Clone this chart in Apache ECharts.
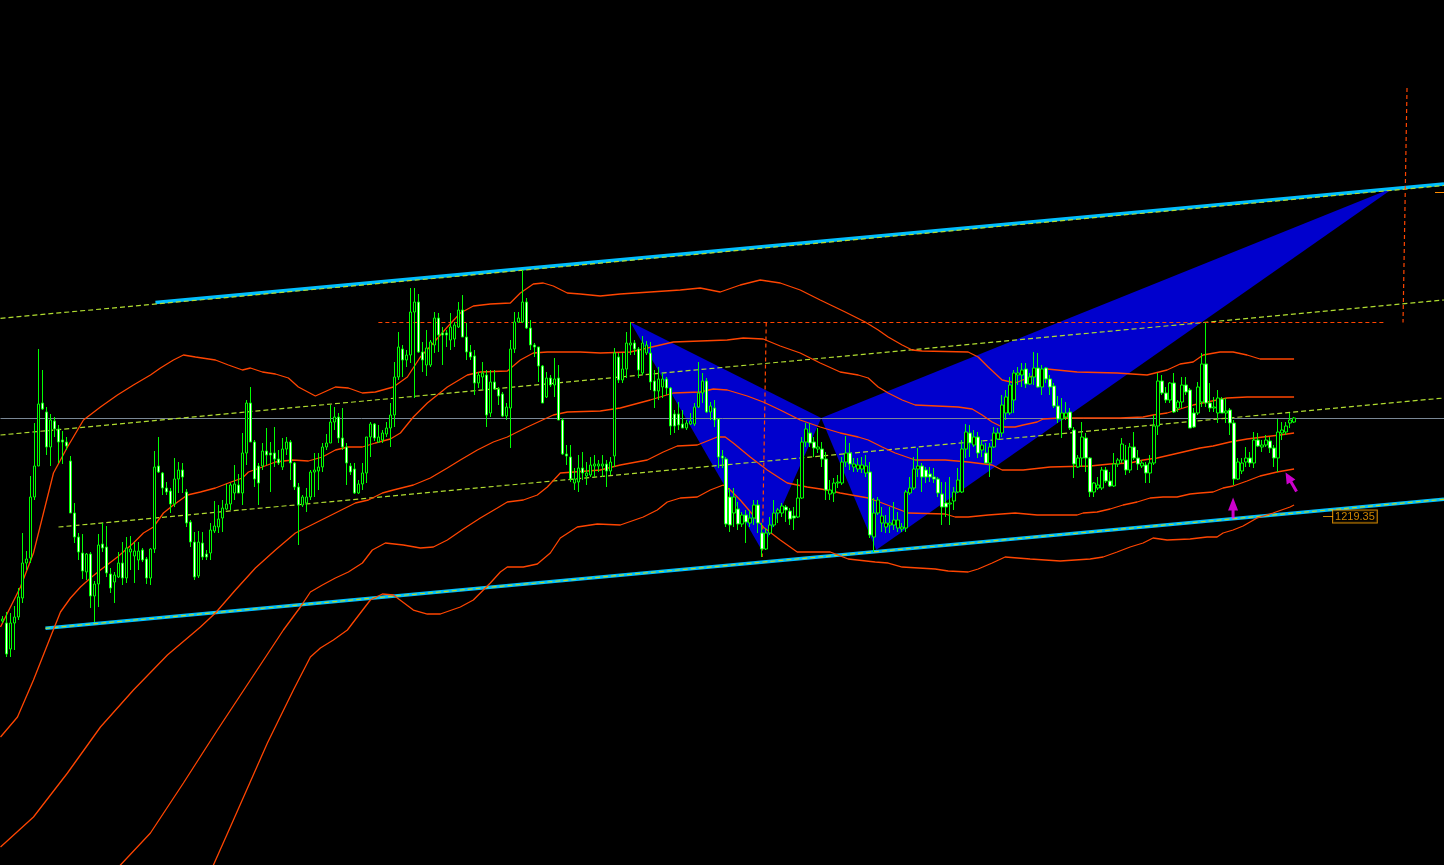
<!DOCTYPE html>
<html><head><meta charset="utf-8">
<script src="https://cdn.jsdelivr.net/npm/echarts@6/dist/echarts.min.js"></script>
<style>html,body{margin:0;padding:0;background:#000;overflow:hidden}#c{width:1444px;height:865px}</style>
</head><body><div id="c"></div>
<script>
// ---- price data (one candle per slot) ----
const opens = [1208.9,1208.7,1206.1,1208.7,1209.3,1211.2,1214.7,1215.2,1221.3,1224.4,1230.7,1229.8,1226.3,1228.9,1228.1,1227.0,1226.8,1224.9,1219.7,1217.3,1215.7,1213.8,1215.6,1211.4,1212.6,1216.6,1216.3,1213.6,1212.8,1213.3,1214.7,1213.2,1215.8,1215.4,1215.0,1216.0,1215.1,1213.2,1216.1,1224.4,1223.7,1222.2,1221.9,1220.6,1223.1,1224.0,1221.8,1218.8,1216.8,1213.4,1216.7,1215.6,1215.7,1217.9,1218.3,1219.2,1220.1,1220.6,1221.7,1222.5,1221.7,1225.7,1230.7,1226.8,1224.4,1224.4,1225.9,1225.7,1225.7,1225.1,1224.3,1226.1,1226.8,1224.7,1222.3,1220.5,1220.7,1221.3,1223.8,1223.9,1224.3,1226.3,1226.7,1228.8,1229.3,1227.2,1226.3,1224.4,1224.1,1221.7,1222.6,1223.7,1227.3,1228.6,1226.8,1227.0,1227.6,1228.2,1229.5,1233.3,1236.1,1235.0,1235.5,1239.8,1240.8,1235.8,1234.5,1234.5,1236.5,1239.2,1237.7,1237.7,1237.0,1237.1,1238.3,1240.0,1237.3,1235.8,1235.4,1232.7,1233.3,1233.5,1229.7,1232.8,1232.1,1231.6,1229.4,1230.2,1236.1,1238.8,1238.8,1240.8,1238.2,1236.5,1236.3,1234.4,1231.3,1233.2,1232.5,1233.2,1229.0,1225.6,1225.3,1222.7,1222.8,1224.2,1223.4,1223.5,1224.4,1224.4,1224.4,1224.6,1223.9,1225.4,1235.3,1233.0,1234.1,1236.5,1236.7,1236.1,1233.7,1235.7,1235.7,1232.9,1231.9,1232.3,1233.1,1232.2,1229.6,1229.6,1228.6,1228.2,1228.6,1228.6,1230.3,1231.7,1232.9,1229.8,1230.2,1229.1,1225.4,1225.1,1221.3,1219.7,1220.1,1218.6,1219.5,1218.7,1219.2,1220.5,1217.7,1216.1,1217.7,1218.5,1219.7,1219.7,1220.3,1219.9,1219.4,1219.3,1221.2,1226.8,1227.7,1226.8,1226.1,1226.1,1225.1,1221.6,1221.7,1222.7,1222.7,1224.8,1225.7,1224.3,1224.1,1224.1,1223.7,1223.8,1217.3,1219.7,1218.7,1218.3,1218.5,1218.5,1218.2,1218.1,1218.2,1221.7,1222.2,1224.1,1224.4,1224.0,1223.6,1223.3,1223.1,1221.6,1220.7,1220.6,1220.9,1221.8,1221.8,1226.1,1227.7,1226.5,1227.3,1226.0,1225.7,1224.7,1226.3,1227.1,1227.7,1229.7,1229.7,1231.0,1233.5,1233.5,1234.1,1232.6,1233.3,1234.2,1232.3,1234.2,1233.1,1232.4,1230.4,1229.1,1229.3,1229.8,1228.0,1224.3,1225.2,1227.2,1225.2,1221.8,1222.2,1222.2,1224.0,1222.9,1222.4,1224.6,1225.0,1225.0,1224.0,1226.3,1225.2,1224.4,1224.5,1223.7,1224.7,1228.4,1232.9,1231.7,1231.0,1232.7,1230.2,1230.8,1232.5,1232.0,1229.7,1229.7,1230.8,1234.6,1230.7,1230.2,1229.7,1231.1,1229.7,1230.0,1228.7,1223.1,1223.9,1224.8,1225.2,1224.7,1227.0,1226.3,1226.5,1226.9,1226.2,1225.2,1227.7,1227.8,1228.7,1228.8];
const closes = [1209.1,1205.6,1208.7,1209.3,1211.3,1214.7,1215.1,1221.3,1224.4,1230.6,1230.1,1226.3,1229.0,1228.1,1226.8,1226.8,1226.4,1219.7,1217.3,1215.8,1213.9,1215.6,1211.4,1212.6,1216.5,1216.2,1213.7,1212.2,1213.5,1214.7,1213.2,1216.2,1216.1,1215.9,1215.9,1215.0,1213.2,1216.1,1224.3,1223.8,1222.2,1221.8,1220.6,1223.1,1224.0,1223.3,1218.7,1216.8,1213.3,1216.8,1215.3,1215.3,1218.0,1218.4,1219.1,1220.2,1220.6,1222.5,1222.6,1221.7,1225.7,1230.7,1226.8,1223.1,1222.7,1225.9,1225.5,1225.5,1225.1,1224.7,1226.1,1226.8,1224.7,1222.3,1220.5,1221.3,1221.3,1223.8,1224.0,1224.3,1226.3,1226.7,1228.8,1229.3,1227.2,1226.3,1224.7,1223.8,1221.7,1222.6,1223.7,1227.3,1228.6,1227.2,1227.3,1227.7,1228.2,1229.5,1233.3,1236.3,1235.0,1235.5,1239.8,1240.8,1235.8,1235.0,1236.2,1236.8,1239.2,1237.5,1237.5,1237.5,1238.3,1238.5,1240.0,1237.3,1235.8,1235.3,1232.7,1233.5,1233.7,1229.5,1232.8,1232.1,1231.4,1229.4,1230.3,1236.1,1238.8,1239.2,1240.8,1238.2,1236.5,1236.3,1234.4,1230.7,1233.2,1232.5,1233.1,1229.0,1225.6,1225.4,1223.1,1223.1,1224.2,1223.7,1223.7,1224.5,1224.6,1224.6,1224.6,1223.9,1224.8,1235.7,1233.0,1234.1,1236.7,1236.7,1236.1,1234.0,1236.7,1236.5,1232.8,1231.9,1233.1,1233.1,1232.2,1228.4,1228.4,1228.5,1228.2,1228.7,1228.9,1230.3,1231.7,1232.9,1229.8,1230.4,1229.0,1225.3,1225.2,1218.6,1218.5,1221.3,1218.6,1219.5,1218.8,1219.2,1220.5,1218.7,1216.1,1217.7,1218.5,1219.7,1220.0,1220.4,1220.0,1219.1,1219.2,1221.2,1226.8,1228.1,1226.7,1226.2,1226.3,1225.1,1222.0,1222.0,1222.7,1222.8,1224.8,1225.7,1224.6,1224.6,1224.5,1224.5,1224.4,1217.5,1219.7,1221.0,1219.4,1218.7,1218.7,1219.0,1219.0,1218.3,1221.8,1222.2,1224.1,1224.4,1223.3,1223.3,1223.3,1223.1,1221.7,1220.3,1220.3,1220.7,1221.8,1223.0,1226.1,1227.8,1226.7,1227.3,1225.7,1226.5,1224.7,1226.3,1227.7,1227.7,1230.5,1231.3,1232.5,1233.7,1233.7,1234.0,1232.6,1233.3,1234.2,1232.3,1234.1,1233.1,1232.3,1230.4,1229.1,1229.7,1229.7,1228.2,1224.6,1225.2,1227.3,1225.2,1221.8,1222.7,1222.5,1224.0,1222.9,1222.4,1224.6,1225.0,1226.6,1224.0,1226.3,1225.2,1224.6,1224.7,1223.7,1224.7,1228.4,1232.9,1231.7,1231.0,1232.7,1229.8,1230.8,1232.5,1231.8,1228.2,1228.3,1232.3,1234.6,1230.7,1230.2,1230.3,1231.2,1229.7,1229.9,1228.7,1223.1,1224.8,1224.7,1225.2,1224.7,1227.0,1226.4,1226.5,1227.0,1226.2,1225.2,1227.8,1228.0,1228.4,1229.0,1229.2];
const lows = [1208.7,1205.3,1205.3,1206.0,1209.0,1210.7,1214.0,1214.7,1221.0,1224.4,1230.0,1225.5,1224.4,1227.3,1224.7,1224.6,1226.0,1219.7,1216.7,1215.0,1213.1,1213.0,1210.2,1208.8,1210.3,1215.8,1213.3,1211.7,1210.7,1213.2,1212.5,1212.7,1214.0,1212.7,1214.0,1214.8,1212.6,1212.5,1215.7,1223.7,1221.5,1221.5,1219.7,1220.3,1221.7,1221.7,1218.3,1216.3,1213.0,1213.2,1215.0,1215.0,1215.0,1217.7,1217.7,1217.8,1220.0,1220.0,1221.0,1221.7,1220.5,1224.5,1226.8,1222.3,1220.5,1224.0,1224.5,1221.8,1224.3,1224.5,1224.0,1225.5,1223.0,1222.0,1216.5,1220.3,1219.8,1221.0,1221.3,1222.0,1223.8,1226.0,1226.7,1228.0,1226.7,1226.0,1222.5,1223.5,1221.6,1221.6,1222.0,1222.7,1225.3,1226.9,1226.7,1226.7,1227.3,1226.3,1228.3,1233.0,1233.3,1234.3,1234.7,1231.2,1235.7,1233.8,1233.4,1234.3,1235.7,1235.8,1234.5,1236.3,1236.0,1236.3,1238.2,1237.3,1235.0,1235.0,1231.5,1232.2,1232.0,1228.3,1229.3,1232.0,1230.5,1229.3,1229.0,1226.2,1235.7,1238.7,1238.7,1238.1,1236.0,1235.3,1232.8,1230.7,1231.2,1232.3,1231.3,1229.0,1225.5,1224.5,1222.8,1222.0,1221.8,1223.0,1222.5,1223.3,1223.3,1223.8,1223.3,1222.3,1223.5,1224.3,1232.7,1232.7,1233.2,1235.5,1235.5,1233.2,1233.5,1235.5,1232.0,1230.2,1231.0,1231.2,1231.5,1227.5,1227.7,1228.0,1228.2,1228.0,1228.5,1228.4,1230.2,1230.7,1229.7,1229.0,1228.3,1224.2,1224.2,1218.3,1217.8,1218.3,1218.0,1218.3,1216.7,1218.3,1218.5,1217.7,1215.3,1216.0,1217.5,1218.3,1218.7,1219.3,1218.8,1218.5,1218.0,1219.2,1221.1,1226.3,1226.3,1225.3,1225.7,1224.3,1221.0,1221.0,1220.8,1222.2,1222.5,1224.3,1224.0,1223.8,1223.8,1223.7,1223.3,1217.2,1215.8,1219.5,1217.8,1217.7,1217.7,1218.0,1217.8,1217.8,1217.8,1221.5,1222.0,1223.3,1221.8,1222.7,1222.8,1222.7,1221.3,1218.5,1219.3,1218.5,1220.0,1221.7,1221.7,1225.2,1225.3,1226.3,1225.2,1225.3,1224.7,1223.3,1226.2,1227.0,1227.3,1229.0,1229.5,1229.7,1232.5,1232.3,1232.2,1232.5,1232.5,1232.2,1231.5,1232.7,1231.5,1230.2,1228.7,1227.2,1229.0,1228.0,1223.2,1224.2,1224.3,1223.8,1221.3,1221.3,1222.0,1222.0,1222.7,1222.3,1222.3,1224.3,1224.7,1223.5,1223.7,1225.0,1224.0,1224.2,1222.7,1222.7,1224.5,1227.5,1231.5,1230.7,1230.7,1229.7,1229.8,1230.2,1231.5,1228.2,1228.2,1229.5,1230.3,1230.3,1229.8,1229.8,1228.7,1229.7,1228.7,1227.5,1222.5,1223.0,1223.6,1224.3,1224.3,1224.2,1226.3,1225.8,1226.3,1225.7,1224.3,1223.8,1227.0,1227.5,1228.2,1228.7];
const highs = [1209.4,1209.8,1209.7,1210.4,1212.2,1217.7,1215.9,1223.4,1228.7,1236.1,1234.0,1230.3,1229.6,1229.3,1228.5,1227.9,1227.3,1225.4,1220.7,1217.7,1217.6,1215.7,1215.8,1212.9,1217.6,1218.7,1218.4,1214.2,1213.8,1215.8,1216.8,1217.3,1217.4,1216.8,1216.8,1216.2,1215.3,1216.2,1225.9,1227.3,1223.8,1222.8,1222.2,1225.2,1224.8,1224.7,1222.1,1219.0,1217.8,1217.9,1217.8,1216.0,1218.7,1220.9,1220.5,1221.0,1222.6,1222.7,1224.5,1223.6,1227.7,1231.0,1232.3,1227.0,1224.7,1226.7,1228.2,1226.8,1228.3,1226.0,1227.2,1227.3,1227.0,1224.8,1222.7,1221.5,1222.2,1224.0,1225.7,1225.7,1226.7,1227.6,1230.5,1230.3,1229.7,1230.2,1226.7,1224.7,1224.7,1223.0,1224.7,1227.3,1228.8,1228.7,1228.5,1228.0,1228.8,1230.7,1234.8,1237.8,1236.5,1236.0,1242.2,1242.2,1241.6,1236.8,1238.0,1237.0,1239.8,1239.7,1238.3,1238.0,1239.7,1238.8,1240.8,1241.5,1238.7,1236.5,1236.0,1233.8,1234.8,1234.0,1234.0,1234.0,1232.3,1231.8,1230.7,1237.0,1239.8,1239.8,1244.0,1241.2,1239.0,1236.7,1236.3,1234.5,1233.8,1233.5,1235.2,1234.5,1229.2,1226.5,1226.5,1224.2,1225.5,1225.8,1224.8,1225.3,1225.5,1225.0,1225.5,1225.0,1225.3,1236.2,1235.7,1235.7,1237.8,1238.8,1237.0,1236.3,1237.4,1236.9,1236.8,1234.0,1234.3,1233.7,1233.3,1232.3,1230.0,1230.8,1230.0,1229.0,1229.7,1230.7,1234.8,1233.7,1233.2,1230.8,1231.0,1229.2,1226.0,1225.3,1222.2,1222.2,1220.8,1219.8,1220.0,1220.0,1221.0,1221.0,1218.7,1218.2,1219.3,1221.0,1220.2,1220.7,1220.5,1220.2,1220.3,1223.1,1227.3,1228.7,1228.7,1227.3,1228.2,1226.8,1225.8,1223.0,1223.2,1223.5,1225.3,1227.4,1226.7,1225.2,1225.2,1225.3,1225.5,1224.8,1221.2,1221.3,1220.3,1219.5,1220.3,1220.8,1219.8,1218.7,1222.0,1223.3,1225.3,1226.2,1224.7,1224.3,1224.3,1224.2,1223.3,1222.8,1222.8,1223.3,1222.3,1224.2,1227.0,1228.6,1228.5,1228.0,1227.8,1227.0,1226.7,1226.7,1228.3,1228.2,1231.5,1232.0,1233.3,1234.0,1234.3,1234.7,1234.7,1233.7,1235.8,1235.7,1234.5,1234.3,1233.5,1232.7,1231.4,1231.2,1230.8,1230.2,1228.3,1225.5,1228.8,1227.7,1225.3,1222.8,1223.3,1224.3,1224.3,1223.8,1225.7,1225.2,1227.2,1226.5,1226.7,1227.8,1226.0,1225.0,1224.8,1225.5,1229.5,1233.7,1233.5,1232.3,1232.8,1233.7,1231.0,1233.3,1233.3,1232.2,1230.2,1232.8,1235.7,1238.7,1232.7,1231.3,1232.0,1231.3,1231.2,1230.2,1229.0,1225.2,1225.2,1226.3,1225.8,1227.8,1227.7,1227.0,1227.5,1227.3,1226.5,1229.1,1228.8,1228.8,1229.7,1229.3];

// ---- indicator bands: [bar index, price] ----
const bandUpper2 = [[-0.5,1208.3],[4.5,1212.3],[7.75,1215.7],[10.25,1219.7],[12.75,1223.7],[16.25,1226.3],[20.25,1229.0],[24.5,1230.3],[28.75,1231.5],[32.75,1232.5],[37,1233.5],[39.5,1234.2],[42.75,1235.0],[45.25,1235.5],[48.25,1235.3],[53.25,1235.0],[56.5,1234.5],[60,1234.0],[62,1234.2],[65,1233.8],[68.25,1233.6],[71.5,1233.2],[74,1232.3],[78.25,1231.4],[83.25,1232.3],[86.5,1232.2],[90,1231.7],[93.25,1231.8],[97.75,1232.3],[101.25,1233.3],[104.5,1235.3],[107.75,1236.7],[111.25,1238.3],[114.5,1239.7],[117.75,1240.4],[122,1240.6],[127,1240.7],[129.5,1241.7],[132.75,1242.6],[135.25,1242.7],[137.75,1242.4],[141.25,1241.7],[144.5,1241.6],[149.5,1241.4],[154.5,1241.6],[162,1241.8],[169.5,1242.0],[174.5,1242.2],[179.5,1241.8],[184.5,1242.5],[189.5,1243.0],[194.5,1242.7],[199.5,1242.0],[204.5,1241.0],[210.75,1239.8],[215.75,1238.8],[219,1238.0],[221.5,1237.3],[225,1236.5],[227.5,1236.0],[230,1235.9],[241.5,1235.8],[244,1235.3],[246.5,1234.3],[250,1233.0],[253.25,1232.7],[257,1233.3],[261.25,1234.1],[268.75,1233.8],[278.75,1233.7],[286.25,1233.5],[291.25,1234.0],[294.5,1234.6],[297.75,1234.8],[300.25,1235.5],[304.5,1235.8],[307.75,1235.8],[311.25,1235.5],[314.5,1235.1],[323,1235.1]];
const bandUpper1 = [[-0.5,1197.3],[3.75,1199.3],[7.75,1203.0],[12,1207.3],[14.5,1209.8],[17,1211.2],[19.5,1212.3],[22,1213.2],[24.5,1214.0],[28.75,1215.3],[32.75,1216.7],[35.25,1217.7],[37.75,1218.3],[40.25,1219.7],[42.75,1220.5],[46.25,1221.5],[49.5,1221.8],[53.25,1222.2],[56.5,1222.7],[60,1223.2],[61.5,1223.8],[65,1224.3],[68.25,1224.8],[72.5,1225.0],[76.5,1224.9],[80,1225.3],[83.25,1226.0],[86.5,1226.3],[90,1226.3],[93.25,1226.7],[97,1227.1],[99.5,1227.7],[102.75,1229.3],[106.25,1230.7],[111.25,1232.3],[116.25,1233.5],[119.5,1233.8],[126.25,1233.9],[129.5,1235.0],[132.75,1235.7],[136.25,1235.8],[144.5,1235.8],[149.5,1235.7],[157,1235.8],[167.75,1236.8],[181.25,1237.0],[185.25,1237.2],[190.25,1237.1],[194.5,1236.4],[199.5,1235.7],[204.5,1234.7],[209.5,1233.8],[214,1233.5],[216.5,1233.2],[219,1232.3],[221.5,1231.7],[225,1231.0],[228.25,1230.5],[239,1230.3],[242.5,1230.1],[245,1229.5],[247.5,1228.8],[250,1228.3],[253.25,1228.3],[255.25,1228.5],[258.75,1228.8],[260.25,1229.1],[264.5,1229.2],[279.5,1229.2],[285.25,1229.3],[287.75,1229.5],[291.25,1229.7],[294.5,1230.1],[297.75,1230.5],[301.25,1230.8],[306.25,1231.2],[311.25,1231.3],[323,1231.3]];
const bandMiddle = [[-0.5,1186.3],[7.75,1189.3],[16.25,1193.7],[24.5,1198.3],[32.75,1202.0],[41.25,1205.5],[49.5,1208.3],[53.25,1209.7],[58.25,1212.0],[63.25,1214.2],[68.25,1216.0],[73.25,1217.7],[78.25,1218.7],[83.25,1219.7],[88.25,1220.7],[91.5,1221.0],[95,1221.7],[97.75,1222.0],[102.75,1222.5],[107,1223.2],[111.25,1224.2],[114.5,1225.0],[118.75,1226.0],[122.75,1226.8],[126.25,1227.3],[131.25,1228.3],[137.75,1229.5],[141.25,1229.8],[149.5,1229.9],[154.5,1230.2],[162,1231.0],[167.75,1231.7],[174.5,1231.8],[177.75,1232.1],[181.25,1232.0],[186.25,1231.4],[190.25,1230.8],[194.5,1230.0],[199.5,1229.0],[204.5,1228.3],[209.5,1227.7],[214,1227.3],[216.5,1227.0],[220,1226.3],[223.25,1225.7],[228.25,1225.0],[235.75,1225.0],[241.5,1224.8],[247.5,1224.5],[250,1224.0],[255.25,1224.0],[262,1224.3],[272,1224.4],[277,1224.6],[282,1224.7],[285.25,1225.0],[288.75,1225.2],[292,1225.5],[295.25,1225.8],[299.5,1226.2],[302.75,1226.4],[307,1226.8],[311.25,1227.1],[315.25,1227.3],[319.5,1227.5],[323,1227.7]];
const bandLower1 = [[22,1181.3],[29.5,1184.5],[37,1187.7],[45.25,1192.7],[53.75,1198.0],[62,1203.0],[70.25,1208.0],[74.5,1210.3],[77,1211.8],[80,1212.5],[83.25,1213.2],[86.5,1213.8],[90,1214.7],[92.5,1216.0],[95.75,1216.7],[100.25,1216.5],[104.5,1216.2],[107.75,1216.3],[111.25,1217.0],[115.25,1218.1],[119.5,1219.2],[123.75,1220.2],[126.25,1220.8],[130.25,1221.0],[133.75,1221.5],[136.25,1222.3],[139.5,1223.7],[146.25,1223.9],[149.5,1224.0],[154.5,1224.5],[161.25,1225.0],[165.25,1225.8],[168.75,1226.4],[173.75,1226.5],[176.25,1226.9],[178.75,1227.3],[180.75,1227.3],[182.75,1226.7],[187,1225.3],[191.25,1224.0],[196.25,1222.7],[201.25,1222.3],[206.25,1222.0],[209.5,1221.7],[216.5,1221.2],[220,1220.7],[223.25,1220.2],[226.5,1219.7],[235.75,1219.6],[238.25,1219.3],[241.5,1219.3],[246.5,1219.5],[253.25,1219.7],[258.75,1219.5],[268.75,1219.5],[270.25,1219.7],[273.75,1219.8],[277,1220.1],[280.25,1220.5],[283.75,1220.8],[287,1221.2],[290.25,1221.3],[293.75,1221.3],[297,1221.6],[299.5,1221.7],[302.75,1221.8],[305.25,1222.2],[307.75,1222.4],[311.25,1222.9],[314.5,1223.4],[318.75,1223.8],[323,1224.1]];
const bandLower2 = [[49.5,1181.5],[52.75,1184.5],[57.75,1189.0],[66.25,1196.7],[72.75,1202.0],[77,1205.3],[79.5,1206.2],[82.75,1207.0],[86.25,1208.0],[89.5,1209.7],[92,1211.0],[95,1211.6],[97.75,1211.5],[102.75,1210.0],[106.25,1209.6],[109.5,1209.6],[114.5,1210.3],[117.75,1211.0],[122,1212.7],[124.5,1213.8],[126.25,1214.3],[130.25,1214.3],[133.75,1214.6],[137,1215.7],[139.5,1217.2],[143.75,1218.3],[148.75,1218.6],[154.5,1218.5],[160.25,1219.3],[163.75,1220.0],[166.25,1220.8],[169.5,1221.2],[173.75,1221.3],[177,1222.0],[180.25,1222.5],[182,1222.0],[184.5,1221.0],[190.25,1218.3],[194.5,1217.0],[198.75,1215.8],[207,1215.8],[211.5,1215.1],[218.25,1214.8],[221.5,1214.7],[225,1214.3],[233.25,1214.1],[236.5,1213.9],[241.5,1213.8],[244,1214.1],[247.5,1214.7],[250.75,1215.3],[257,1215.1],[264.5,1214.9],[272,1215.1],[275.25,1215.3],[278.75,1215.8],[282,1216.3],[285.25,1216.7],[287.75,1217.2],[291.25,1217.0],[297,1217.1],[301.25,1217.3],[303.75,1217.3],[305.25,1217.7],[307.75,1218.0],[310.25,1218.4],[313.75,1219.2],[317.75,1219.7],[322,1220.3],[323,1220.5]];

// ---- drawn objects: [bar index, price] ----
const channelUpper = [[38.25,1240.75],[360.5,1252.6]];
const channelUpperDotted = [[-0.5,1239.17],[360.5,1252.45]];
const channelLower = [[10.75,1208.17],[360.5,1221.07]];
const parallelMid = [[-0.5,1227.5],[360.5,1241.0]];
const parallelLow = [[14,1218.3],[360.5,1231.2]];
const levelDashed = [[94,1238.75],[345.75,1238.75]];
const verticalDashedA = [[191,1238.75],[190,1215.3]];
const verticalDashedB = [[351.25,1262.2],[350.25,1238.75]];
const shortMarker = [[358.25,1251.75],[360.5,1251.75]];
const greyLevel = [[-0.5,1229.15],[360.5,1229.15]];
const patternTriangles = [[157,1238.8,190,1215.9,204.75,1229.2],[204.75,1229.2,218.5,1216.0,348.25,1252.3]];
const arrowUp = [[307.75,1220.2]];
const arrowDiag = [[322.25,1222.8]];
const priceTag = [[331.5,1219.35]];
const slotCount = 361;

const chart = echarts.init(document.getElementById('c'));
const categories = Array.from({length: slotCount}, (_, i) => String(i));
const candleData = opens.map((o, i) => [o, closes[i], lows[i], highs[i]]);

function ln(data, color, width, type, z) {
  return {type:'line', xAxisIndex:1, data:data, showSymbol:false, symbol:'none', silent:true, z:z,
    lineStyle:{color:color, width:width, type:type}, clip:true};
}
const ORANGE = '#ff4500', YG = '#b0dc30', CYAN = '#00bfff';

chart.setOption({
  backgroundColor:'#000', animation:false,
  grid:{left:0.5,right:0,top:0,bottom:0},
  xAxis:[{type:'category', data:categories, show:false, boundaryGap:true},
         {type:'value', min:-0.5, max:360.5, show:false}],
  yAxis:{type:'value', min:1184.5, max:1271, show:false},
  series:[
    {type:'custom', xAxisIndex:1, z:1, silent:true, data:patternTriangles,
     encode:{x:[0,2,4], y:[1,3,5]},
     renderItem:function(params, api){
       const pts=[0,1,2].map(k=>api.coord([api.value(2*k), api.value(2*k+1)]));
       return {type:'polygon', shape:{points:pts}, style:{fill:'#0000cd'}};
     }},
    ln(greyLevel, '#7a8896', 1, 'solid', 2),
    ln(channelUpper, CYAN, 3.5, 'solid', 3),
    ln(channelLower, CYAN, 3.5, 'solid', 3),
    ln(channelUpperDotted, YG, 1.2, [5,3], 4),
    ln(channelLower, YG, 1.2, [5,3], 4),
    ln(parallelMid, YG, 1.2, [5,3], 4),
    ln(parallelLow, YG, 1.2, [5,3], 4),
    ln(levelDashed, ORANGE, 1.2, [4,3], 4),
    ln(verticalDashedA, ORANGE, 1.2, [4,3], 4),
    ln(verticalDashedB, ORANGE, 1.2, [4,3], 4),
    ln(shortMarker, '#ff8c00', 1, 'solid', 4),
    ln(bandUpper2, ORANGE, 1.3, 'solid', 5),
    ln(bandUpper1, ORANGE, 1.3, 'solid', 5),
    ln(bandMiddle, ORANGE, 1.3, 'solid', 5),
    ln(bandLower1, ORANGE, 1.3, 'solid', 5),
    ln(bandLower2, ORANGE, 1.3, 'solid', 5),
    {type:'candlestick', xAxisIndex:0, data:candleData, barWidth:3, z:6, silent:true,
     itemStyle:{color:'#000', color0:'#fff', borderColor:'#00ff00', borderColor0:'#00ff00', borderWidth:1}},
    {type:'scatter', xAxisIndex:1, data:arrowUp, z:8, silent:true,
     symbol:'path://M5,0 L10,13 L6.5,13 L6.5,21 L3.5,21 L3.5,13 L0,13 Z', symbolSize:[10,21],
     itemStyle:{color:'#ff00ff'}},
    {type:'scatter', xAxisIndex:1, data:arrowDiag, z:8, silent:true,
     symbol:'path://M5,0 L10,11 L6.5,11 L6.5,22 L3.5,22 L3.5,11 L0,11 Z', symbolSize:[10,22], symbolRotate:30,
     itemStyle:{color:'#ff00ff'}},
    {type:'scatter', xAxisIndex:1, data:priceTag, z:9, silent:true,
     symbol:'rect', symbolSize:[10,1], itemStyle:{color:'#ffa500'},
     label:{show:true, position:'right', distance:0, formatter:p=>p.value[1].toFixed(2),
       color:'#ffa500', borderColor:'#ffa500', borderWidth:1, padding:[1,2,0,2], backgroundColor:'#000',
       fontSize:11, fontFamily:'Liberation Sans'}}
  ]
});
</script></body></html>
